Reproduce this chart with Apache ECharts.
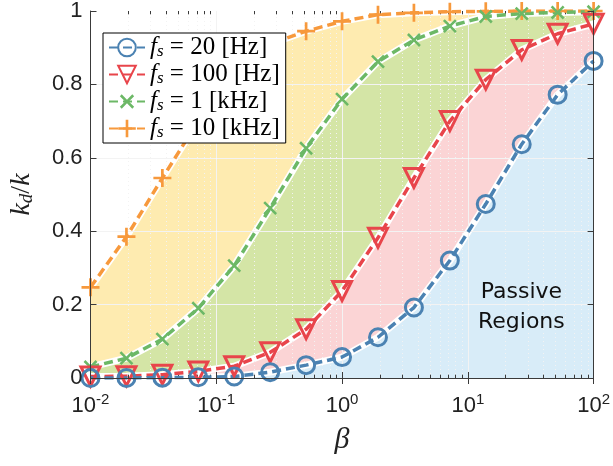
<!DOCTYPE html>
<html><head><meta charset="utf-8">
<script src="https://cdn.jsdelivr.net/npm/echarts@6/dist/echarts.min.js"></script>
<style>html,body{margin:0;padding:0;background:#fff}#c{width:613px;height:466px}</style>
</head><body><div id="c"></div>
<script>
// ---- data ----
const beta = [0.01, 0.01931, 0.03728, 0.07197, 0.1389, 0.2683, 0.5179, 1.0, 1.931, 3.728, 7.197, 13.89, 26.83, 51.79, 100];
const fs20Hz  = [0, 0, 0.001, 0.002, 0.004, 0.016, 0.035, 0.057, 0.111, 0.192, 0.32, 0.474, 0.637, 0.772, 0.864];
const fs100Hz = [0.004, 0.005, 0.009, 0.018, 0.032, 0.07, 0.133, 0.237, 0.382, 0.545, 0.7, 0.813, 0.894, 0.938, 0.965];
const fs1kHz  = [0.03, 0.054, 0.106, 0.19, 0.306, 0.463, 0.626, 0.76, 0.862, 0.921, 0.959, 0.985, 0.993, 0.996, 0.998];
const fs10kHz = [0.247, 0.385, 0.545, 0.70, 0.82, 0.91, 0.945, 0.972, 0.99, 0.995, 0.998, 0.999, 1, 1, 1];
const legendLabels = ['20 [Hz]', '100 [Hz]', '1 [kHz]', '10 [kHz]'];
const yTicks = [0, 0.2, 0.4, 0.6, 0.8, 1];
const xDecades = [0.01, 0.1, 1, 10, 100];

const col = {blue:'#4b82b2', red:'#e8454b', green:'#6cb866', orange:'#f7993c'};
const fill = {orange:'#feebb0', green:'#d4e5a6', red:'#fbd4d5', blue:'#d8ecf8'};
const pairs = v => beta.map((b,i)=>[b, v[i]]);

// grid line positions
const majorX = xDecades.slice(1,-1);
const minorX = [];
xDecades.slice(0,-1).forEach(d=>{for(let m=2;m<=9;m++) minorX.push(+(d*m).toPrecision(3));});
const majorY = yTicks.slice(1,-1);

function gridLines(c, cMinor){
  const d = [];
  majorX.forEach(x=>d.push({xAxis:x, lineStyle:{color:c, width:1, type:'solid'}}));
  minorX.forEach(x=>d.push({xAxis:x, lineStyle:{color:cMinor, width:1, type:[1,3]}}));
  majorY.forEach(y=>d.push({yAxis:y, lineStyle:{color:c, width:1, type:'solid'}}));
  return d;
}
function mlSeries(data, z){
  return {type:'line', data:pairs(fs20Hz), symbol:'none', lineStyle:{width:0, opacity:0}, silent:true, z:z,
    markLine:{silent:true, symbol:['none','none'], animation:false, label:{show:false}, emphasis:{disabled:true}, data:data}};
}
const minorTicks = [];
minorX.forEach(x=>{
  minorTicks.push([{coord:[x,0]},{coord:[x,0.009]}]);
  minorTicks.push([{coord:[x,1]},{coord:[x,0.991]}]);
});

function areaSeries(v, c){
  return {type:'line', data:pairs(v), symbol:'none', lineStyle:{width:0, opacity:0}, areaStyle:{color:c, opacity:1, origin:'start'}, silent:true, z:2, animation:false};
}
function whiteSeries(v){
  return {type:'line', data:pairs(v), symbol:'none', lineStyle:{width:7, color:'#fff'}, silent:true, z:4, animation:false};
}
const plusPath = 'path://M8.5,0h3v8.5h8.5v3h-8.5v8.5h-3v-8.5h-8.5v-3h8.5z';
function mainSeries(name, v, c, symbol, size, rot, filled){
  return {name:name, type:'line', data:pairs(v), symbol:symbol, symbolSize:size, symbolRotate:rot, showAllSymbol:true,
    color:c,
    lineStyle:{color:c, width:3.5, type:[9,5]},
    itemStyle: filled ? {color:c, borderWidth:0} : {color:'rgba(255,255,255,0)', borderColor:c, borderWidth:3},
    z:5, animation:false};
}
const names = legendLabels.map(l=>'{i|f}{s|s}{n| = '+l+'}');

const chart = echarts.init(document.getElementById('c'), null, {renderer:'canvas'});
const axisCol = '#3a3a3a';
const mathRich = {
  i:{fontFamily:'Liberation Serif', fontStyle:'italic', fontSize:25, color:'#000', lineHeight:25, verticalAlign:'middle'},
  s:{fontFamily:'Liberation Serif', fontStyle:'italic', fontSize:17, color:'#000', lineHeight:25, verticalAlign:'bottom'},
  n:{fontFamily:'Liberation Serif', fontSize:25, color:'#000', lineHeight:25, verticalAlign:'middle'}
};
chart.setOption({
  animation:false,
  backgroundColor:'#fff',
  grid:{left:88, right:19, top:9, bottom:88},
  legend:{
    show:true, data:names, orient:'vertical', left:103, top:33, z:20,
    padding:[2,6,2,5], itemGap:2, itemWidth:36, itemHeight:22,
    backgroundColor:'#fff', borderColor:'#000', borderWidth:1, borderRadius:0,
    selectedMode:false,
    textStyle:{lineHeight:25, rich:mathRich}
  },
  xAxis:[
    {type:'log', logBase:10, min:0.01, max:100, position:'bottom', z:6,
     axisLine:{show:true, lineStyle:{color:axisCol, width:1}},
     axisTick:{show:true, inside:true, length:6, lineStyle:{color:axisCol}},
     splitLine:{show:false}, minorTick:{show:false},
     axisLabel:{margin:14, formatter:v=>'{b|10}{e|'+Math.round(Math.log10(v))+'}',
       rich:{b:{fontFamily:'Liberation Sans', fontSize:22, color:'#222'},
             e:{fontFamily:'Liberation Sans', fontSize:15, color:'#222', verticalAlign:'top', padding:[0,0,12,0]}}},
     name:'β', nameLocation:'middle', nameGap:47,
     nameTextStyle:{fontFamily:'Liberation Serif', fontStyle:'italic', fontSize:30, color:'#222'}},
    {type:'log', logBase:10, min:0.01, max:100, position:'top', z:6,
     axisLine:{show:true, lineStyle:{color:axisCol, width:1}},
     axisTick:{show:true, inside:true, length:6, lineStyle:{color:axisCol}},
     axisLabel:{show:false}, splitLine:{show:false}}
  ],
  yAxis:[
    {type:'value', min:0, max:1, interval:0.2, position:'left', z:6,
     axisLine:{show:true, lineStyle:{color:axisCol, width:1}},
     axisTick:{show:true, inside:true, length:6, lineStyle:{color:axisCol}},
     splitLine:{show:false},
     axisLabel:{margin:8, fontFamily:'Liberation Sans', fontSize:22, color:'#222', formatter:v=>String(+v.toFixed(1))},
     name:'{i|k}{s|d}{n|/}{i|k}', nameLocation:'middle', nameGap:54, nameRotate:90,
     nameTextStyle:{rich:{
       i:{fontFamily:'Liberation Serif', fontStyle:'italic', fontSize:28, color:'#222'},
       s:{fontFamily:'Liberation Serif', fontStyle:'italic', fontSize:19, color:'#222', verticalAlign:'bottom', padding:[10,0,0,0]},
       n:{fontFamily:'Liberation Serif', fontSize:28, color:'#222'}}}},
    {type:'value', min:0, max:1, interval:0.2, position:'right', z:6,
     axisLine:{show:true, lineStyle:{color:axisCol, width:1}},
     axisTick:{show:true, inside:true, length:6, lineStyle:{color:axisCol}},
     axisLabel:{show:false}, splitLine:{show:false}}
  ],
  series:[
    mlSeries(gridLines('#e2e2e2','#d8d8d8'), 1),
    areaSeries(fs10kHz, fill.orange),
    areaSeries(fs1kHz, fill.green),
    areaSeries(fs100Hz, fill.red),
    areaSeries(fs20Hz, fill.blue),
    mlSeries(gridLines('rgba(255,255,255,0.6)','rgba(255,255,255,0.7)'), 3),
    mlSeries(minorTicks.map(p=>{p[0].lineStyle={color:axisCol,width:1,type:'solid'}; return p;}), 6),
    whiteSeries(fs10kHz), whiteSeries(fs1kHz), whiteSeries(fs100Hz), whiteSeries(fs20Hz),
    mainSeries(names[3], fs10kHz, col.orange, plusPath, 18, 0, true),
    mainSeries(names[2], fs1kHz, col.green, plusPath, 17, 45, true),
    mainSeries(names[1], fs100Hz, col.red, 'triangle', 19, 180, false),
    mainSeries(names[0], fs20Hz, col.blue, 'circle', 17, 0, false)
  ],
  graphic:[{type:'text', left:478, top:277, z:10,
    style:{text:'Passive\nRegions', fontFamily:'DejaVu Sans', fontSize:22, fill:'#111', textAlign:'center', lineHeight:30, x:45}}]
});
</script></body></html>
